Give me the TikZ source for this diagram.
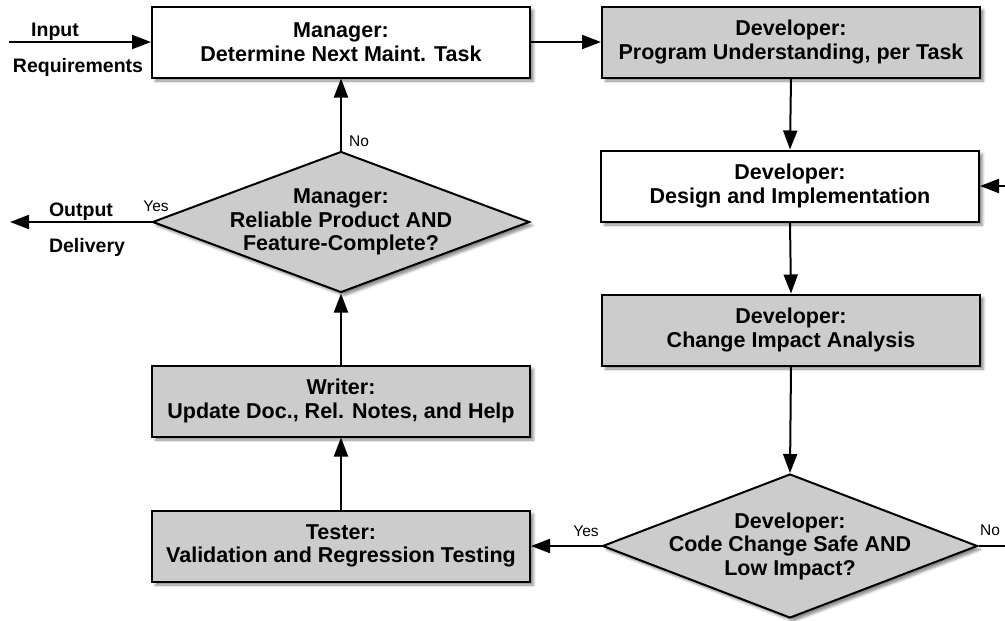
\documentclass[tikz,border=0pt]{standalone}
\usepackage{fontspec}
\setmainfont{Liberation Sans}
\usetikzlibrary{arrows.meta,shapes.geometric,shadows.blur}
\begin{document}
\begin{tikzpicture}[x=1pt,y=-1pt,
  every node/.style={inner sep=0pt},
  boxtext/.style={font=\fontsize{21.5}{23.5}\selectfont\bfseries, align=center},
  shade/.style={blur shadow={shadow xshift=3.5pt,shadow yshift=-3.5pt,shadow blur radius=2.5pt,shadow opacity=45}},
  taskbox/.style={draw, line width=2pt, rectangle, minimum width=378pt, minimum height=71pt, shade, boxtext},
  plainbox/.style={taskbox, fill=white},
  greybox/.style={taskbox, fill=black!20},
  decision/.style={draw, line width=2pt, diamond, fill=black!20, shade},
  flow/.style={line width=2pt, -{Triangle[length=19pt,width=14pt]}},
  wire/.style={line width=2pt},
  tag/.style={font=\fontsize{15.5}{17}\selectfont},
  iolabel/.style={font=\fontsize{19.5}{21}\selectfont\bfseries}
]
\useasboundingbox (0,0) rectangle (1005,621);

% task boxes
\node[plainbox] (mgr)  at (341,42)  {Manager:\\Determine Next Maint. Task};
\node[greybox]  (pu)   at (791,42)  {Developer:\\Program Understanding, per Task};
\node[plainbox] (di)   at (790,186) {Developer:\\Design and Implementation};
\node[greybox]  (cia)  at (791,330) {Developer:\\Change Impact Analysis};
\node[greybox]  (wr)   at (341,401) {Writer:\\Update Doc., Rel. Notes, and Help};
\node[greybox]  (te)   at (341,546) {Tester:\\Validation and Regression Testing};

% decisions
\node[decision, minimum width=377pt, minimum height=141pt,
      label={[boxtext]center:Manager:\\Reliable Product AND\\Feature-Complete?}] (rel) at (341,222) {};
\node[decision, minimum width=375pt, minimum height=144pt,
      label={[boxtext]center:Developer:\\Code Change Safe AND\\Low Impact?}] (safe) at (790,546) {};

% loose ends
\coordinate (inS)  at (9,42);
\coordinate (outE) at (10,222);
\coordinate (noE)  at (1005,546);
\coordinate (loopS) at (1005,186);

% connectors
\draw[flow] (inS) -- (mgr.west);
\draw[flow] (mgr.east) -- (pu.west);
\draw[flow] (pu.south) -- (di.north);
\draw[flow] (di.south) -- (cia.north);
\draw[flow] (cia.south) -- (safe.north);
\draw[flow] (safe.west) -- (te.east);
\draw[wire] (safe.east) -- (noE);
\draw[flow] (loopS) -- (di.east);
\draw[flow] (te.north) -- (wr.south);
\draw[flow] (wr.north) -- (rel.south);
\draw[flow] (rel.north) -- (mgr.south);
\draw[flow] (rel.west) -- (outE);

% labels
\node[iolabel] (lin)  at (55,32)  {Input};
\node[iolabel] (lreq) at (78,67)  {Requirements};
\node[iolabel] (lout) at (81,212) {Output};
\node[iolabel] (ldel) at (87,247) {Delivery};
\node[tag] (yes1) at (156,206) {Yes};
\node[tag] (no1)  at (359,141) {No};
\node[tag] (yes2) at (586,531) {Yes};
\node[tag] (no2)  at (990,530) {No};
\end{tikzpicture}
\end{document}
